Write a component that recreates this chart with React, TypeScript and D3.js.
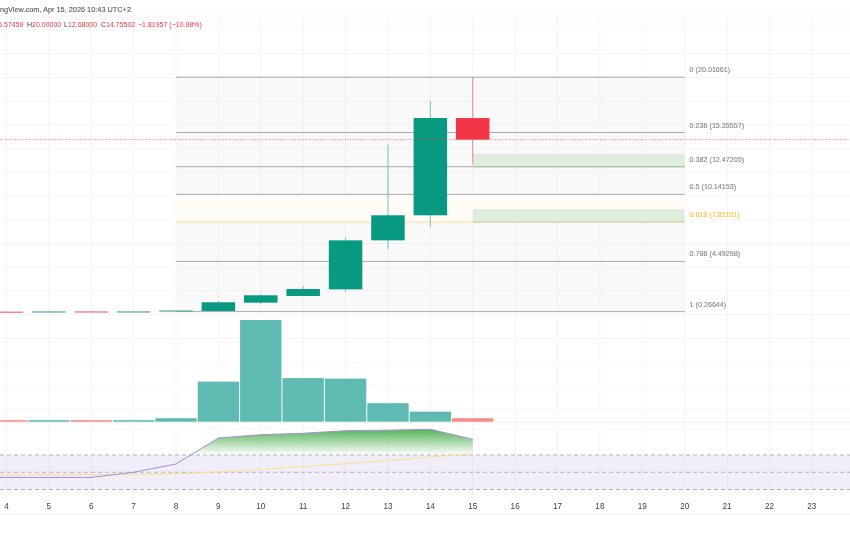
import React from "react";
import * as d3 from "d3";

const days = [3, 4, 5, 6, 7, 8, 9, 10, 11, 12, 13, 14, 15];
const opens = [0.27, 0.27, 0.25, 0.29, 0.25, 0.28, 0.32, 1.02, 1.58, 2.14, 6.27, 8.38, 16.57459];
const highs = [0.3, 0.3, 0.3, 0.3, 0.3, 0.38, 1.17, 1.75, 2.42, 6.53, 14.33, 18.0, 20.0];
const lows = [0.25, 0.25, 0.25, 0.25, 0.25, 0.27, 0.3, 0.91, 1.58, 1.94, 5.54, 7.37, 12.68];
const closes = [0.25, 0.25, 0.29, 0.25, 0.29, 0.37, 1.05, 1.64, 2.17, 6.27, 8.38, 16.57459, 14.75502];
const volumes = [1.5, 1.5, 1.5, 1.5, 1.5, 3.4, 39.4, 100, 42.9, 42.4, 18.2, 9.9, 3.4];
const rsi = [44, 44, 44, 44, 50, 59.6, 89.7, 93.5, 95.2, 98.2, 98.8, 99.8, 88.2];
const rsiMa = [46.6, 46.8, 47, 47.3, 47.6, 48, 50.6, 53.4, 56.4, 60.1, 63.6, 67.7, 71.2];
const axisDays = [4, 5, 6, 7, 8, 9, 10, 11, 12, 13, 14, 15, 16, 17, 18, 19, 20, 21, 22, 23];
const fibRatios = [0, 0.236, 0.382, 0.5, 0.618, 0.786, 1];
const fibPrices = [20.01661, 15.35557, 12.47205, 10.14153, 7.81101, 4.49298, 0.26644];
const zoneTops = [13.57, 8.9];
const zoneBottoms = [12.47205, 7.81101];
const gridPrices = [24, 22, 20, 18, 16, 14, 12, 10, 8, 6, 4, 2, 0, -2, -4, -6, -8];
const rsiLevels = [70, 50, 30];
const headerTitle = "TradingView.com, Apr 15, 2026 10:43 UTC+2";
const ohlcLabels = ["O", "H", "L", "C"];
const ohlcValues = ["16.57459", "20.00000", "12.68000", "14.75502"];
const changeText = "\u22121.81957 (\u221210.98%)";

const W = 850;
const H = 550;
const font = "'Liberation Sans', sans-serif";
const UP = "#089981";
const DOWN = "#f23645";

const x = d3.scaleLinear().domain([8, 20]).range([176, 684.7]);
const y = d3.scaleLinear().domain([20.01661, 0.26644]).range([77.2, 311.6]);
const v = d3.scaleLinear().domain([0, 100]).range([421.7, 320]);
const r = d3.scaleLinear().domain([30, 70]).range([489.5, 455]);
const step = x(1) - x(0);
const bodyW = step * 0.79;

const rsiLine = d3.line<number>().x((_, i) => x(days[i])).y((d) => r(d));
const maLine = d3.line<number>().x((_, i) => x(days[i])).y((d) => r(d));
const rsiArea = d3.area<number>().x((_, i) => x(days[i])).y0(r(70)).y1((d) => r(d));

const ohlcX = [23.5, 27, 64, 101];

export default function App() {
  return (
    <svg
      width={W}
      height={H}
      viewBox={`0 0 ${W} ${H}`}
      style={{ position: "absolute", left: 0, top: 0, background: "#fff", filter: "blur(0.25px)" }}
    >
      <defs>
        <linearGradient id="ob" gradientUnits="userSpaceOnUse" x1="0" x2="0" y1={r(100)} y2={r(70)}>
          <stop offset="0" stopColor="#4caf50" stopOpacity={0.95} />
          <stop offset="1" stopColor="#4caf50" stopOpacity={0} />
        </linearGradient>
        <clipPath id="above70">
          <rect x={0} y={0} width={W} height={r(70)} />
        </clipPath>
      </defs>

      {/* grid */}
      {axisDays.map((d) => (
        <line key={d} x1={x(d)} x2={x(d)} y1={16} y2={497} stroke="#f5f5f7" strokeWidth={1} />
      ))}
      {gridPrices.map((p) => (
        <line key={p} x1={0} x2={W} y1={y(p)} y2={y(p)} stroke="#f5f5f7" strokeWidth={1} />
      ))}
      <line x1={0} x2={W} y1={16} y2={16} stroke="#f5f5f7" />
      <line x1={0} x2={W} y1={422.5} y2={422.5} stroke="#f0f1f3" />
      <line x1={0} x2={W} y1={429} y2={429} stroke="#f5f5f7" />
      <line x1={0} x2={W} y1={493} y2={493} stroke="#f5f5f7" />
      <line x1={0} x2={W} y1={514} y2={514} stroke="#eeeff1" />

      {/* fib backgrounds */}
      <rect x={x(8)} y={y(fibPrices[0])} width={x(20) - x(8)} height={y(fibPrices[6]) - y(fibPrices[0])} fill="#787b86" fillOpacity={0.045} />
      <rect x={x(8)} y={y(fibPrices[3])} width={x(20) - x(8)} height={y(fibPrices[4]) - y(fibPrices[3])} fill="#fffcf5" />
      {zoneTops.map((t, i) => (
        <rect key={i} x={x(15)} y={y(t)} width={x(20) - x(15)} height={y(zoneBottoms[i]) - y(t)} fill="#dfeddf" />
      ))}
      {fibPrices.map((p, i) => (
        <line
          key={p}
          x1={x(8)}
          x2={x(20)}
          y1={y(p)}
          y2={y(p)}
          stroke={fibRatios[i] === 0.618 ? "#fbdd97" : "#a9a9ae"}
          strokeWidth={1}
        />
      ))}
      {zoneBottoms.map((b, i) => (
        <line key={i} x1={x(15)} x2={x(20)} y1={y(b)} y2={y(b)} stroke={i === 0 ? "#a5c8a8" : "#c5d5a0"} />
      ))}
      {fibPrices.map((p, i) => (
        <text
          key={p}
          x={689.5}
          y={y(p) - 5}
          fontFamily={font}
          fontSize={7.2}
          stroke={fibRatios[i] === 0.618 ? "#fbc13f" : "#8b8e98"}
          strokeWidth={0.12}
          fill={fibRatios[i] === 0.618 ? "#fbc13f" : "#83868f"}
        >
          {`${fibRatios[i]} (${p.toFixed(5)})`}
        </text>
      ))}

      {/* volume */}
      {days.map((d, i) => {
        const color = closes[i] >= opens[i] ? "#5fbbb1" : "#f98886";
        return (
          <rect key={d} x={x(d - 0.5) + 0.5} y={v(volumes[i])} width={step - 1} height={v(0) - v(volumes[i])} fill={color} />
        );
      })}

      {/* candles */}
      {days.map((d, i) => {
        const up = closes[i] >= opens[i];
        const top = y(Math.max(opens[i], closes[i]));
        const h = Math.max(1.3, y(Math.min(opens[i], closes[i])) - top);
        return (
          <g key={d}>
            <line x1={x(d)} x2={x(d)} y1={y(highs[i])} y2={y(lows[i])} stroke={up ? "#6fc4b6" : "#ef7f87"} strokeWidth={1} />
            <rect
              x={x(d) - bodyW / 2}
              y={top}
              width={bodyW}
              height={h}
              fill={h > 1.5 ? (up ? UP : DOWN) : up ? "#5aaea0" : "#f0787c"}
            />
          </g>
        );
      })}

      {/* last price line */}
      <line x1={0} x2={W} y1={y(closes[12])} y2={y(closes[12])} stroke="#f23645" strokeOpacity={0.8} strokeWidth={0.8} strokeDasharray="1 1.5" />

      {/* RSI */}
      <rect x={0} y={r(70)} width={W} height={r(30) - r(70)} fill="#7e57c2" fillOpacity={0.1} />
      {rsiLevels.map((l) => (
        <line key={l} x1={0} x2={W} y1={r(l)} y2={r(l)} stroke="#aaa8b2" strokeWidth={0.9} strokeDasharray="4 3" />
      ))}
      <path d={rsiArea(rsi) ?? ""} fill="url(#ob)" clipPath="url(#above70)" />
      <path d={maLine(rsiMa) ?? ""} fill="none" stroke="#fbe08f" strokeWidth={1} />
      <path d={rsiLine(rsi) ?? ""} fill="none" stroke="#a58fd4" strokeWidth={1} />

      {/* time axis */}
      {axisDays.map((d) => (
        <text key={d} x={x(d)} y={508.5} textAnchor="middle" fontFamily={font} fontSize={8.2} fill="#3c3f49">
          {d}
        </text>
      ))}

      {/* header */}
      <text x={131} y={11.5} textAnchor="end" fontFamily={font} fontSize={7.35} stroke="#5a5d67" strokeWidth={0.1} fill="#4f525c">
        {headerTitle}
      </text>
      {ohlcLabels.map((l, i) => {
        const anchorEnd = i === 0;
        return (
          <text
            key={l}
            x={ohlcX[i]}
            y={27.3}
            textAnchor={anchorEnd ? "end" : "start"}
            fontFamily={font}
            fontSize={7}
            fill="#f23645"
          >
            <tspan fill="#3c3f49">{l}</tspan>
            {ohlcValues[i]}
          </text>
        );
      })}
      <text x={138} y={27.3} fontFamily={font} fontSize={7} fill="#f23645">
        {changeText}
      </text>
    </svg>
  );
}
